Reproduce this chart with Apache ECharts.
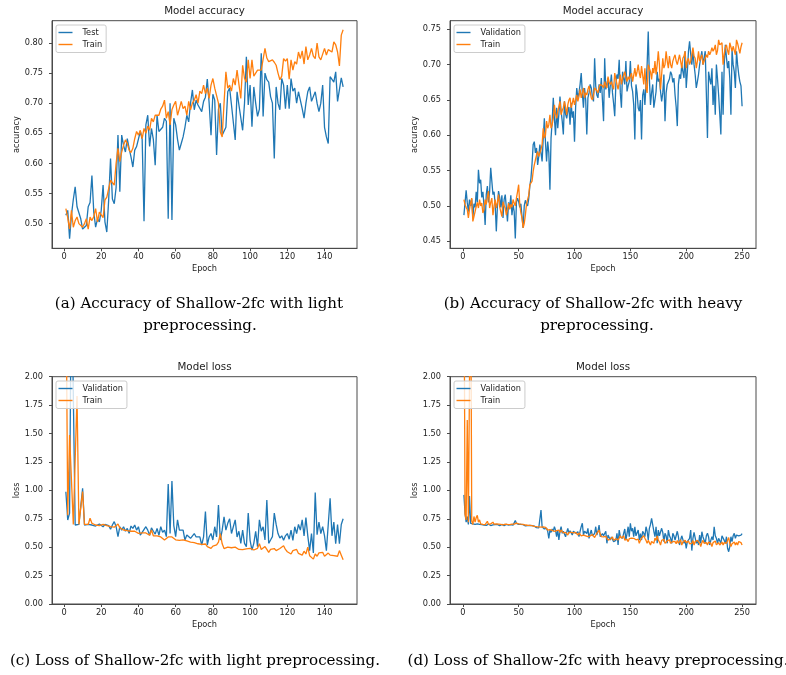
<!DOCTYPE html>
<html>
<head>
<meta charset="utf-8">
<title>Shallow-2fc training curves</title>
<script src="https://cdn.jsdelivr.net/npm/echarts@6/dist/echarts.min.js"></script>
<style>
html, body { margin: 0; padding: 0; background: #fff; }
#chart { width: 786px; height: 675px; }
</style>
</head>
<body>
<div id="chart"></div>
<script>
// (a) accuracy, light preprocessing (epochs 1..150)
var accTestLight = [
  0.514, 0.522, 0.475, 0.514, 0.540, 0.561, 0.528, 0.528, 0.508, 0.491,
  0.491, 0.497, 0.528, 0.535, 0.580, 0.519, 0.494, 0.508, 0.503, 0.522,
  0.564, 0.503, 0.486, 0.539, 0.608, 0.541, 0.533, 0.560, 0.647, 0.553,
  0.647, 0.630, 0.619, 0.641, 0.625, 0.611, 0.594, 0.622, 0.628, 0.630,
  0.653, 0.640, 0.504, 0.664, 0.680, 0.628, 0.658, 0.640, 0.597, 0.680,
  0.653, 0.650, 0.660, 0.675, 0.670, 0.508, 0.700, 0.506, 0.675, 0.664,
  0.640, 0.622, 0.633, 0.644, 0.660, 0.680, 0.669, 0.700, 0.722, 0.689,
  0.705, 0.697, 0.694, 0.686, 0.703, 0.710, 0.740, 0.700, 0.647, 0.715,
  0.705, 0.614, 0.690, 0.700, 0.647, 0.650, 0.660, 0.719, 0.725, 0.697,
  0.700, 0.639, 0.719, 0.697, 0.700, 0.655, 0.700, 0.777, 0.697, 0.730,
  0.661, 0.727, 0.700, 0.678, 0.690, 0.783, 0.678, 0.750, 0.739, 0.735,
  0.711, 0.700, 0.608, 0.727, 0.700, 0.689, 0.741, 0.730, 0.691, 0.730,
  0.691, 0.741, 0.720, 0.725, 0.700, 0.719, 0.705, 0.691, 0.675, 0.700,
  0.719, 0.727, 0.703, 0.700, 0.719, 0.700, 0.686, 0.700, 0.730, 0.660,
  0.644, 0.633, 0.744, 0.741, 0.735, 0.752, 0.703, 0.700, 0.742, 0.727
];
var accTrainLight = [
  0.525, 0.510, 0.491, 0.522, 0.494, 0.505, 0.511, 0.500, 0.497, 0.494,
  0.500, 0.508, 0.491, 0.511, 0.505, 0.512, 0.525, 0.503, 0.519, 0.522,
  0.510, 0.539, 0.544, 0.541, 0.572, 0.575, 0.564, 0.600, 0.625, 0.603,
  0.619, 0.630, 0.639, 0.633, 0.622, 0.618, 0.625, 0.641, 0.653, 0.647,
  0.655, 0.641, 0.658, 0.650, 0.662, 0.655, 0.675, 0.669, 0.680, 0.683,
  0.680, 0.690, 0.695, 0.705, 0.675, 0.686, 0.664, 0.689, 0.697, 0.703,
  0.680, 0.691, 0.703, 0.691, 0.695, 0.680, 0.703, 0.689, 0.700, 0.705,
  0.714, 0.700, 0.720, 0.716, 0.730, 0.716, 0.725, 0.708, 0.730, 0.741,
  0.725, 0.725, 0.700, 0.652, 0.644, 0.700, 0.752, 0.725, 0.730, 0.720,
  0.741, 0.730, 0.755, 0.755, 0.708, 0.763, 0.741, 0.735, 0.772, 0.741,
  0.772, 0.745, 0.750, 0.755, 0.752, 0.755, 0.755, 0.791, 0.775, 0.769,
  0.770, 0.772, 0.768, 0.763, 0.750, 0.739, 0.745, 0.774, 0.770, 0.774,
  0.740, 0.772, 0.755, 0.769, 0.765, 0.785, 0.774, 0.787, 0.765, 0.794,
  0.772, 0.780, 0.791, 0.778, 0.774, 0.800, 0.777, 0.772, 0.769, 0.791,
  0.780, 0.789, 0.791, 0.785, 0.802, 0.797, 0.785, 0.762, 0.813, 0.822
];

// (b) accuracy, heavy preprocessing (epochs 1..250)
var accValHeavy = [
  0.487, 0.485, 0.522, 0.505, 0.492, 0.509, 0.500, 0.510, 0.483, 0.503,
  0.498, 0.520, 0.505, 0.551, 0.532, 0.537, 0.512, 0.520, 0.500, 0.473,
  0.516, 0.528, 0.505, 0.520, 0.554, 0.535, 0.516, 0.520, 0.502, 0.464,
  0.500, 0.521, 0.512, 0.498, 0.515, 0.483, 0.509, 0.516, 0.497, 0.478,
  0.505, 0.496, 0.515, 0.487, 0.502, 0.492, 0.454, 0.505, 0.511, 0.506,
  0.498, 0.503, 0.485, 0.469, 0.500, 0.508, 0.503, 0.500, 0.510, 0.528,
  0.539, 0.560, 0.587, 0.591, 0.575, 0.582, 0.558, 0.570, 0.587, 0.575,
  0.563, 0.596, 0.624, 0.590, 0.563, 0.591, 0.575, 0.523, 0.596, 0.620,
  0.653, 0.624, 0.600, 0.639, 0.610, 0.630, 0.655, 0.634, 0.620, 0.601,
  0.648, 0.630, 0.624, 0.634, 0.640, 0.615, 0.646, 0.625, 0.634, 0.591,
  0.640, 0.667, 0.653, 0.660, 0.672, 0.688, 0.660, 0.639, 0.667, 0.650,
  0.601, 0.653, 0.660, 0.672, 0.667, 0.655, 0.648, 0.709, 0.670, 0.657,
  0.653, 0.672, 0.660, 0.681, 0.650, 0.620, 0.709, 0.665, 0.672, 0.681,
  0.653, 0.670, 0.686, 0.660, 0.645, 0.627, 0.672, 0.686, 0.680, 0.707,
  0.660, 0.639, 0.690, 0.680, 0.672, 0.705, 0.662, 0.670, 0.676, 0.705,
  0.670, 0.662, 0.643, 0.594, 0.672, 0.660, 0.639, 0.634, 0.650, 0.594,
  0.657, 0.665, 0.643, 0.672, 0.700, 0.747, 0.681, 0.643, 0.660, 0.672,
  0.639, 0.650, 0.662, 0.690, 0.676, 0.680, 0.662, 0.648, 0.660, 0.686,
  0.620, 0.660, 0.672, 0.672, 0.680, 0.690, 0.686, 0.675, 0.681, 0.657,
  0.640, 0.613, 0.672, 0.686, 0.680, 0.700, 0.690, 0.681, 0.719, 0.667,
  0.690, 0.719, 0.733, 0.715, 0.700, 0.719, 0.700, 0.686, 0.667, 0.676,
  0.686, 0.700, 0.710, 0.719, 0.700, 0.710, 0.719, 0.660, 0.596, 0.690,
  0.680, 0.672, 0.695, 0.643, 0.670, 0.629, 0.700, 0.680, 0.657, 0.630,
  0.601, 0.690, 0.629, 0.700, 0.728, 0.710, 0.695, 0.705, 0.680, 0.629,
  0.721, 0.700, 0.690, 0.667, 0.719, 0.700, 0.686, 0.676, 0.670, 0.641
];
var accTrainHeavy = [
  0.509, 0.502, 0.498, 0.495, 0.483, 0.495, 0.504, 0.511, 0.478, 0.485,
  0.492, 0.499, 0.505, 0.497, 0.509, 0.500, 0.504, 0.490, 0.495, 0.509,
  0.502, 0.512, 0.521, 0.497, 0.505, 0.511, 0.487, 0.500, 0.509, 0.497,
  0.505, 0.516, 0.499, 0.492, 0.485, 0.506, 0.500, 0.497, 0.487, 0.495,
  0.504, 0.495, 0.502, 0.498, 0.509, 0.504, 0.500, 0.511, 0.520, 0.530,
  0.502, 0.490, 0.483, 0.469, 0.475, 0.487, 0.502, 0.509, 0.515, 0.530,
  0.528, 0.535, 0.549, 0.558, 0.565, 0.572, 0.577, 0.570, 0.568, 0.580,
  0.587, 0.610, 0.596, 0.600, 0.620, 0.610, 0.615, 0.629, 0.610, 0.615,
  0.624, 0.643, 0.630, 0.624, 0.634, 0.640, 0.648, 0.629, 0.635, 0.639,
  0.648, 0.640, 0.629, 0.643, 0.650, 0.653, 0.639, 0.645, 0.653, 0.643,
  0.650, 0.657, 0.648, 0.655, 0.665, 0.653, 0.660, 0.667, 0.653, 0.660,
  0.657, 0.665, 0.670, 0.672, 0.653, 0.650, 0.657, 0.667, 0.669, 0.663,
  0.660, 0.668, 0.672, 0.674, 0.670, 0.667, 0.676, 0.670, 0.667, 0.683,
  0.675, 0.672, 0.676, 0.670, 0.665, 0.688, 0.680, 0.672, 0.665, 0.675,
  0.686, 0.672, 0.680, 0.679, 0.690, 0.682, 0.676, 0.683, 0.679, 0.684,
  0.688, 0.676, 0.685, 0.695, 0.683, 0.690, 0.700, 0.688, 0.681, 0.698,
  0.685, 0.672, 0.695, 0.667, 0.660, 0.700, 0.695, 0.690, 0.679, 0.695,
  0.688, 0.705, 0.686, 0.700, 0.719, 0.700, 0.665, 0.686, 0.709, 0.695,
  0.700, 0.719, 0.705, 0.695, 0.712, 0.700, 0.695, 0.705, 0.710, 0.714,
  0.705, 0.700, 0.700, 0.714, 0.705, 0.695, 0.709, 0.712, 0.719, 0.695,
  0.705, 0.709, 0.700, 0.705, 0.714, 0.724, 0.712, 0.709, 0.695, 0.705,
  0.719, 0.705, 0.710, 0.714, 0.700, 0.705, 0.705, 0.714, 0.710, 0.719,
  0.714, 0.718, 0.724, 0.719, 0.722, 0.728, 0.714, 0.720, 0.735, 0.728,
  0.728, 0.731, 0.700, 0.715, 0.724, 0.728, 0.720, 0.714, 0.731, 0.725,
  0.719, 0.726, 0.720, 0.714, 0.735, 0.730, 0.728, 0.716, 0.725, 0.731
];

// (c) loss, light preprocessing (epochs 1..150); values above 2 run off the top
var lossValLight = [
  0.988, 0.739, 0.800, 3.000, 3.000, 0.695, 0.704, 0.700, 0.704, 1.018,
  0.695, 0.690, 0.700, 0.686, 0.695, 0.690, 0.686, 0.700, 0.704, 0.695,
  0.680, 0.700, 0.695, 0.690, 0.657, 0.695, 0.725, 0.680, 0.593, 0.680,
  0.650, 0.680, 0.640, 0.665, 0.622, 0.686, 0.665, 0.695, 0.650, 0.680,
  0.607, 0.630, 0.620, 0.680, 0.650, 0.605, 0.670, 0.640, 0.615, 0.665,
  0.605, 0.680, 0.630, 0.650, 0.593, 1.056, 0.620, 1.082, 0.690, 0.593,
  0.740, 0.650, 0.650, 0.650, 0.563, 0.607, 0.620, 0.578, 0.563, 0.620,
  0.590, 0.578, 0.590, 0.519, 0.590, 0.813, 0.519, 0.590, 0.620, 0.563,
  0.680, 0.590, 0.871, 0.563, 0.650, 0.768, 0.650, 0.710, 0.750, 0.620,
  0.620, 0.740, 0.590, 0.640, 0.534, 0.650, 0.534, 0.505, 0.800, 0.560,
  0.475, 0.534, 0.640, 0.505, 0.740, 0.640, 0.680, 0.563, 0.915, 0.534,
  0.563, 0.593, 0.800, 0.700, 0.620, 0.580, 0.600, 0.560, 0.600, 0.620,
  0.570, 0.650, 0.560, 0.680, 0.620, 0.700, 0.650, 0.740, 0.600, 0.760,
  0.600, 0.470, 0.620, 0.450, 0.980, 0.610, 0.720, 0.620, 0.680, 0.600,
  0.470, 0.470, 0.930, 0.600, 0.720, 0.530, 0.700, 0.530, 0.700, 0.750
];
var lossTrainLight = [
  3.000, 0.780, 1.487, 1.480, 0.700, 0.700, 1.830, 0.700, 0.705, 0.990,
  0.700, 0.702, 0.700, 0.754, 0.710, 0.700, 0.695, 0.700, 0.690, 0.695,
  0.700, 0.692, 0.690, 0.686, 0.680, 0.683, 0.676, 0.680, 0.704, 0.670,
  0.672, 0.651, 0.660, 0.645, 0.650, 0.640, 0.648, 0.640, 0.630, 0.622,
  0.630, 0.625, 0.618, 0.625, 0.620, 0.605, 0.651, 0.600, 0.605, 0.600,
  0.595, 0.590, 0.585, 0.563, 0.580, 0.590, 0.575, 0.590, 0.580, 0.565,
  0.575, 0.560, 0.555, 0.565, 0.550, 0.555, 0.548, 0.545, 0.550, 0.540,
  0.545, 0.530, 0.535, 0.525, 0.520, 0.528, 0.505, 0.498, 0.490, 0.510,
  0.505, 0.520, 0.545, 0.620, 0.530, 0.488, 0.505, 0.500, 0.515, 0.495,
  0.505, 0.500, 0.490, 0.480, 0.495, 0.478, 0.490, 0.485, 0.478, 0.490,
  0.482, 0.475, 0.488, 0.490, 0.530, 0.480, 0.495, 0.505, 0.480, 0.455,
  0.480, 0.475, 0.488, 0.470, 0.472, 0.488, 0.505, 0.512, 0.480, 0.460,
  0.445, 0.440, 0.470, 0.455, 0.480, 0.445, 0.460, 0.430, 0.465, 0.440,
  0.500, 0.425, 0.440, 0.395, 0.440, 0.420, 0.450, 0.440, 0.455, 0.420,
  0.430, 0.448, 0.430, 0.440, 0.425, 0.430, 0.420, 0.470, 0.430, 0.390
];

// (d) loss, heavy preprocessing (epochs 1..250)
var lossValHeavy = [
  0.960, 0.800, 0.720, 0.770, 0.700, 0.950, 0.710, 0.700, 0.705, 0.695,
  0.700, 0.690, 0.705, 0.695, 0.700, 0.690, 0.698, 0.702, 0.695, 0.700,
  0.692, 0.698, 0.703, 0.695, 0.690, 0.700, 0.696, 0.690, 0.698, 0.694,
  0.700, 0.692, 0.688, 0.695, 0.700, 0.693, 0.690, 0.697, 0.700, 0.692,
  0.695, 0.690, 0.698, 0.703, 0.694, 0.700, 0.735, 0.710, 0.725, 0.700,
  0.695, 0.700, 0.690, 0.698, 0.693, 0.688, 0.695, 0.690, 0.700, 0.692,
  0.685, 0.690, 0.680, 0.685, 0.678, 0.672, 0.680, 0.670, 0.675, 0.827,
  0.680, 0.670, 0.660, 0.675, 0.666, 0.640, 0.578, 0.651, 0.630, 0.660,
  0.640, 0.680, 0.650, 0.592, 0.651, 0.563, 0.640, 0.680, 0.622, 0.640,
  0.651, 0.592, 0.630, 0.666, 0.622, 0.645, 0.651, 0.607, 0.640, 0.655,
  0.622, 0.610, 0.636, 0.592, 0.640, 0.680, 0.710, 0.607, 0.640, 0.636,
  0.620, 0.666, 0.578, 0.620, 0.651, 0.600, 0.592, 0.620, 0.680, 0.607,
  0.640, 0.695, 0.592, 0.607, 0.620, 0.600, 0.592, 0.640, 0.534, 0.607,
  0.620, 0.563, 0.590, 0.578, 0.549, 0.534, 0.560, 0.622, 0.520, 0.651,
  0.592, 0.600, 0.578, 0.622, 0.660, 0.563, 0.620, 0.680, 0.592, 0.710,
  0.640, 0.666, 0.592, 0.680, 0.600, 0.592, 0.651, 0.563, 0.620, 0.563,
  0.640, 0.622, 0.592, 0.680, 0.640, 0.563, 0.666, 0.700, 0.754, 0.768,
  0.640, 0.592, 0.680, 0.534, 0.651, 0.600, 0.592, 0.666, 0.630, 0.549,
  0.622, 0.600, 0.534, 0.651, 0.600, 0.578, 0.534, 0.622, 0.600, 0.563,
  0.578, 0.640, 0.592, 0.519, 0.563, 0.600, 0.592, 0.534, 0.560, 0.490,
  0.549, 0.563, 0.578, 0.651, 0.470, 0.578, 0.630, 0.622, 0.534, 0.560,
  0.519, 0.607, 0.534, 0.636, 0.590, 0.578, 0.534, 0.600, 0.622, 0.590,
  0.519, 0.560, 0.592, 0.563, 0.680, 0.600, 0.578, 0.534, 0.578, 0.563,
  0.534, 0.600, 0.592, 0.560, 0.534, 0.592, 0.490, 0.460, 0.505, 0.592,
  0.549, 0.600, 0.622, 0.578, 0.607, 0.592, 0.600, 0.596, 0.605, 0.620
];
var lossTrainHeavy = [
  3.200, 0.790, 0.740, 1.620, 0.720, 0.720, 3.200, 0.730, 0.700, 0.770,
  0.720, 0.760, 0.780, 0.720, 0.740, 0.705, 0.710, 0.700, 0.705, 0.698,
  0.710, 0.728, 0.700, 0.712, 0.705, 0.700, 0.720, 0.702, 0.698, 0.705,
  0.700, 0.703, 0.698, 0.700, 0.702, 0.697, 0.700, 0.703, 0.698, 0.700,
  0.705, 0.698, 0.700, 0.702, 0.697, 0.703, 0.700, 0.712, 0.700, 0.705,
  0.700, 0.702, 0.698, 0.700, 0.697, 0.695, 0.700, 0.693, 0.690, 0.692,
  0.688, 0.690, 0.685, 0.683, 0.686, 0.680, 0.682, 0.678, 0.680, 0.676,
  0.672, 0.678, 0.668, 0.675, 0.660, 0.651, 0.665, 0.655, 0.660, 0.648,
  0.655, 0.640, 0.650, 0.645, 0.638, 0.650, 0.630, 0.651, 0.640, 0.625,
  0.636, 0.630, 0.640, 0.607, 0.630, 0.622, 0.630, 0.618, 0.625, 0.622,
  0.630, 0.615, 0.607, 0.625, 0.610, 0.600, 0.615, 0.607, 0.620, 0.600,
  0.610, 0.592, 0.605, 0.600, 0.595, 0.610, 0.598, 0.585, 0.600, 0.622,
  0.636, 0.651, 0.615, 0.592, 0.605, 0.590, 0.578, 0.595, 0.585, 0.563,
  0.580, 0.570, 0.578, 0.590, 0.560, 0.549, 0.575, 0.585, 0.563, 0.580,
  0.600, 0.578, 0.590, 0.600, 0.563, 0.580, 0.570, 0.549, 0.575, 0.563,
  0.580, 0.570, 0.578, 0.590, 0.565, 0.549, 0.570, 0.534, 0.560, 0.580,
  0.570, 0.600, 0.578, 0.560, 0.534, 0.560, 0.575, 0.519, 0.550, 0.565,
  0.534, 0.580, 0.560, 0.600, 0.563, 0.545, 0.519, 0.560, 0.549, 0.570,
  0.534, 0.519, 0.555, 0.540, 0.565, 0.534, 0.519, 0.550, 0.560, 0.549,
  0.530, 0.560, 0.534, 0.550, 0.565, 0.519, 0.545, 0.534, 0.560, 0.540,
  0.534, 0.555, 0.530, 0.545, 0.534, 0.560, 0.519, 0.550, 0.540, 0.560,
  0.549, 0.534, 0.505, 0.540, 0.560, 0.534, 0.550, 0.540, 0.519, 0.545,
  0.560, 0.534, 0.505, 0.540, 0.534, 0.555, 0.520, 0.505, 0.540, 0.519,
  0.530, 0.545, 0.519, 0.540, 0.525, 0.534, 0.560, 0.585, 0.534, 0.505,
  0.530, 0.534, 0.545, 0.520, 0.540, 0.519, 0.550, 0.534, 0.540, 0.519
];

// tick positions
var ticksEpoch150 = [0, 20, 40, 60, 80, 100, 120, 140];
var ticksEpoch250 = [0, 50, 100, 150, 200, 250];
var ticksAccLight = [0.50, 0.55, 0.60, 0.65, 0.70, 0.75, 0.80];
var ticksAccHeavy = [0.45, 0.50, 0.55, 0.60, 0.65, 0.70, 0.75];
var ticksLoss = [0, 0.25, 0.50, 0.75, 1.00, 1.25, 1.50, 1.75, 2.00];

var captions = [
  ['(a) Accuracy of Shallow-2fc with light', 199, 304],
  ['preprocessing.', 200, 326],
  ['(b) Accuracy of Shallow-2fc with heavy', 593, 304],
  ['preprocessing.', 597, 326],
  ['(c) Loss of Shallow-2fc with light preprocessing.', 195, 661],
  ['(d) Loss of Shallow-2fc with heavy preprocessing.', 598, 661]
];

var BLUE = '#1f77b4';
var ORANGE = '#ff7f0e';
var INK = '#222222';
var SPINE = '#4a4a4a';
var FONT = 'DejaVu Sans';
var SERIF = 'DejaVu Serif';

var panels = [
  { box: [52, 20.7, 305, 227.6], x: [-6.45, 157.45], xt: ticksEpoch150, y: [0.459, 0.837], yt: ticksAccLight,
    title: 'Model accuracy', yName: 'accuracy', yGap: 27.5, names: ['Test', 'Train'],
    data: [accTestLight, accTrainLight], legend: [56, 25] },
  { box: [450, 20.7, 306, 227.6], x: [-11.45, 262.45], xt: ticksEpoch250, y: [0.440, 0.7622], yt: ticksAccHeavy,
    title: 'Model accuracy', yName: 'accuracy', yGap: 27.3, names: ['Validation', 'Train'],
    data: [accValHeavy, accTrainHeavy], legend: [454, 25] },
  { box: [52, 376.7, 305, 227.3], x: [-6.45, 157.45], xt: ticksEpoch150, y: [0, 2], yt: ticksLoss,
    title: 'Model loss', yName: 'loss', yGap: 28.4, names: ['Validation', 'Train'],
    data: [lossValLight, lossTrainLight], legend: [56, 381] },
  { box: [450, 376.7, 306, 227.3], x: [-11.45, 262.45], xt: ticksEpoch250, y: [0, 2], yt: ticksLoss,
    title: 'Model loss', yName: 'loss', yGap: 28.3, names: ['Validation', 'Train'],
    data: [lossValHeavy, lossTrainHeavy], legend: [454, 381] }
];

function pairs(arr) {
  return arr.map(function (v, i) { return [i + 1, v]; });
}

var grids = [], xAxes = [], yAxes = [], series = [], legends = [], graphics = [];
panels.forEach(function (p, i) {
  grids.push({
    left: p.box[0], top: p.box[1], width: p.box[2], height: p.box[3],
    show: true, borderColor: SPINE, borderWidth: 1, backgroundColor: 'transparent'
  });
  xAxes.push({
    gridIndex: i, type: 'value', min: p.x[0], max: p.x[1],
    name: 'Epoch', nameLocation: 'middle', nameGap: 16.5,
    nameTextStyle: { fontFamily: FONT, fontSize: 8.2, color: INK },
    axisLine: { show: true, onZero: false, lineStyle: { color: SPINE, width: 1 } },
    axisTick: { show: true, length: 3, customValues: p.xt, lineStyle: { color: SPINE, width: 1 } },
    axisLabel: { customValues: p.xt, margin: 5, fontFamily: FONT, fontSize: 8.2, color: INK },
    splitLine: { show: false }
  });
  yAxes.push({
    gridIndex: i, type: 'value', min: p.y[0], max: p.y[1],
    name: p.yName, nameLocation: 'middle', nameGap: p.yGap, nameRotate: 90,
    nameTextStyle: { fontFamily: FONT, fontSize: 8.2, color: INK },
    axisLine: { show: true, onZero: false, lineStyle: { color: SPINE, width: 1 } },
    axisTick: { show: true, length: 3, customValues: p.yt, lineStyle: { color: SPINE, width: 1 } },
    axisLabel: {
      customValues: p.yt, margin: 9, fontFamily: FONT, fontSize: 8.2, color: INK,
      formatter: function (v) { return v.toFixed(2); }
    },
    splitLine: { show: false }
  });
  [BLUE, ORANGE].forEach(function (c, k) {
    series.push({
      type: 'line', name: p.names[k], xAxisIndex: i, yAxisIndex: i,
      data: pairs(p.data[k]), showSymbol: false, symbol: 'none', clip: true,
      lineStyle: { color: c, width: 1.3 }, itemStyle: { color: c },
      emphasis: { disabled: true }, silent: true
    });
  });
  legends.push({
    orient: 'vertical', left: p.legend[0], top: p.legend[1],
    data: p.names, icon: 'rect', itemWidth: 14, itemHeight: 1.4, itemGap: 2,
    padding: [2.5, 4, 3, 2.5], selectedMode: false,
    backgroundColor: 'rgba(255,255,255,0.8)', borderColor: '#cccccc', borderWidth: 1, borderRadius: 2,
    textStyle: { fontFamily: FONT, fontSize: 8.2, color: INK, lineHeight: 10, padding: [0, 0, 0, 5] }
  });
  graphics.push({
    type: 'text', silent: true,
    style: {
      text: p.title, x: p.box[0] + p.box[2] / 2, y: p.box[1] - 9,
      font: '10.3px "' + FONT + '"', fill: INK,
      textAlign: 'center', align: 'center', textVerticalAlign: 'middle', verticalAlign: 'middle'
    }
  });
});

// sub-figure captions under each panel
captions.forEach(function (c) {
  graphics.push({
    type: 'text', silent: true,
    style: {
      text: c[0], x: c[1], y: c[2],
      font: '15.1px "' + SERIF + '"', fill: '#000000',
      textAlign: 'center', align: 'center', textVerticalAlign: 'middle', verticalAlign: 'middle'
    }
  });
});

var chart = echarts.init(document.getElementById('chart'), null, { renderer: 'canvas' });
chart.setOption({
  animation: false,
  backgroundColor: '#ffffff',
  grid: grids,
  xAxis: xAxes,
  yAxis: yAxes,
  legend: legends,
  series: series,
  graphic: graphics
});
</script>
</body>
</html>
